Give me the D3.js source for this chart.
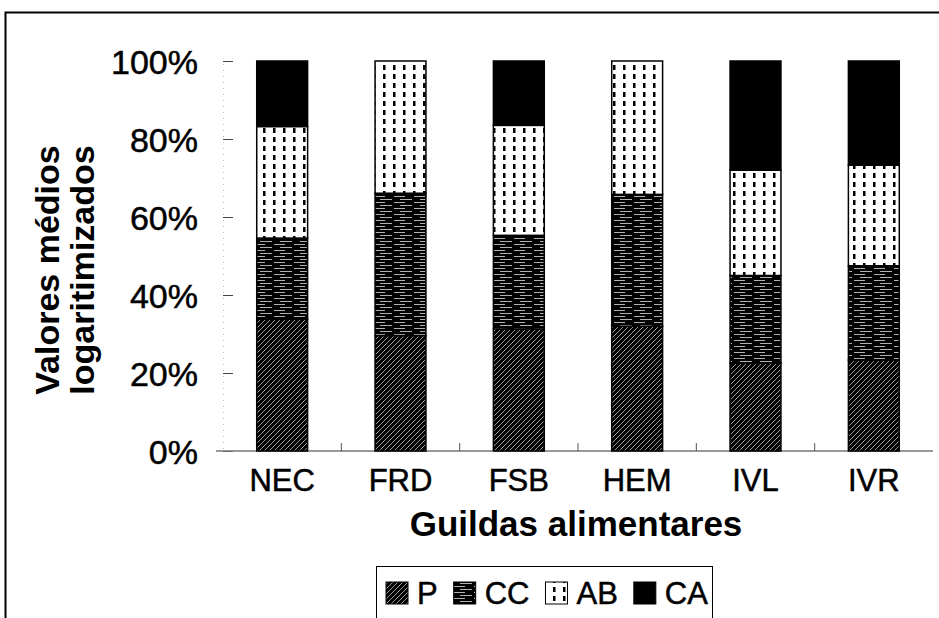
<!DOCTYPE html>
<html>

<head>
    <meta charset="utf-8" />
    <title>Guildas alimentares</title>
    <style>
        body {
            margin: 0;
            background: #fff;
        }

        text {
            font-family: 'Liberation Sans', Arial, sans-serif;
            fill: #000;
        }

        .heavy {
            stroke: #000;
            stroke-width: 0.5px;
        }
    </style>
</head>

<body>
    <div id="chart"></div>

    <script src="https://d3js.org/d3.v7.min.js"></script>
    <script>
        // values (% of the log mean, per guild)
        var guilds = ["NEC", "FRD", "FSB", "HEM", "IVL", "IVR"]
        var groups = ["P", "CC", "AB", "CA"]
        var valP = [33.8, 29.6, 31.3, 32.0, 22.5, 23.3]
        var valCC = [20.8, 36.5, 24.0, 33.8, 22.5, 24.2]
        var valAB = [28.6, 33.9, 28.2, 34.2, 27.0, 25.8]
        var valCA = [16.8, 0, 16.5, 0, 28.0, 26.7]
        var yTicks = [0, 20, 40, 60, 80, 100]

        !(function() {
            "use strict"
            var width = 939,
                height = 618

            var svg = d3.select("#chart").append("svg")
                .attr("width", width)
                .attr("height", height)

            var defs = svg.append("defs")

            // P: black with light diagonal strokes
            var pP = defs.append("pattern").attr("id", "pat-P")
                .attr("patternUnits", "userSpaceOnUse").attr("width", 5).attr("height", 5)
            pP.append("rect").attr("width", 5).attr("height", 5).attr("fill", "#000")
            pP.append("path").attr("d", "M0,5 L5,0 M-1,1 L1,-1 M4,6 L6,4")
                .attr("stroke", "#aaa").attr("stroke-width", 0.9)

            // CC: black with sparse broken white horizontal lines
            var pCC = defs.append("pattern").attr("id", "pat-CC")
                .attr("patternUnits", "userSpaceOnUse").attr("width", 20).attr("height", 6)
            pCC.append("rect").attr("width", 20).attr("height", 6).attr("fill", "#000")
            pCC.append("path").attr("d", "M0,1.5 H12 M14,4.5 H20 M0,4.5 H5")
                .attr("stroke", "#ddd").attr("stroke-width", 0.8)

            // AB: white with black vertical dashes
            var pAB = defs.append("pattern").attr("id", "pat-AB")
                .attr("patternUnits", "userSpaceOnUse").attr("width", 10).attr("height", 9)
            pAB.append("rect").attr("width", 10).attr("height", 9).attr("fill", "#fff")
            pAB.append("rect").attr("x", 3).attr("y", 2).attr("width", 2.5).attr("height", 5).attr("fill", "#000")

            var fills = {
                P: "url(#pat-P)",
                CC: "url(#pat-CC)",
                AB: "url(#pat-AB)",
                CA: "#000"
            }

            // outer frame of the figure
            svg.append("rect")
                .attr("x", 5.5).attr("y", 12.5)
                .attr("width", 945).attr("height", 625)
                .attr("fill", "none").attr("stroke", "#000").attr("stroke-width", 2)

            var x = d3.scaleBand()
                .domain(guilds)
                .range([223, 933])
                .paddingInner(0.57)
                .paddingOuter(0.285)

            var y = d3.scaleLinear()
                .domain([0, 100])
                .range([451, 61])

            var table = guilds.map(function(g, i) {
                return {
                    guild: g,
                    P: valP[i],
                    CC: valCC[i],
                    AB: valAB[i],
                    CA: valCA[i]
                }
            })
            var series = d3.stack().keys(groups)(table)

            // y axis: ticks point inward, labels on the left
            var yAxis = svg.append("g")
                .attr("transform", "translate(223,0)")
                .call(d3.axisLeft(y)
                    .tickValues(yTicks)
                    .tickSize(-10)
                    .tickPadding(25)
                    .tickFormat(function(d) {
                        return d + "%"
                    }))
            yAxis.select(".domain").attr("stroke", "#bbb").attr("stroke-dasharray", "1,5")
            yAxis.selectAll(".tick line").attr("stroke", "#444")
            yAxis.selectAll(".tick text")
                .attr("class", "heavy")
                .attr("font-size", 34)
                .attr("font-family", "'Liberation Sans', Arial, sans-serif")
                .attr("dy", "0.36em")

            // x axis baseline with ticks between categories
            svg.append("line")
                .attr("x1", 216).attr("x2", 933)
                .attr("y1", y(0)).attr("y2", y(0))
                .attr("stroke", "#777").attr("stroke-width", 1.5)

            svg.append("g").selectAll("line")
                .data(guilds.slice(1))
                .enter().append("line")
                .attr("x1", function(d) {
                    return x(d) - x.step() * x.paddingInner() / 2
                })
                .attr("x2", function(d) {
                    return x(d) - x.step() * x.paddingInner() / 2
                })
                .attr("y1", y(0) - 8).attr("y2", y(0))
                .attr("stroke", "#555")

            // stacked bars
            svg.append("g").selectAll("g")
                .data(series)
                .enter().append("g")
                .attr("fill", function(d) {
                    return fills[d.key]
                })
                .selectAll("rect")
                .data(function(d) {
                    return d.filter(function(s) {
                        return s[1] > s[0]
                    })
                })
                .enter().append("rect")
                .attr("x", function(d) {
                    return x(d.data.guild)
                })
                .attr("y", function(d) {
                    return y(d[1])
                })
                .attr("width", x.bandwidth())
                .attr("height", function(d) {
                    return y(d[0]) - y(d[1])
                })
                .attr("stroke", "#000")
                .attr("stroke-width", 1.5)

            // category labels
            svg.append("g").selectAll("text")
                .data(guilds)
                .enter().append("text")
                .attr("class", "heavy")
                .attr("x", function(d) {
                    return x(d) + x.bandwidth() / 2
                })
                .attr("y", 491)
                .attr("text-anchor", "middle")
                .attr("font-size", 31)
                .text(function(d) {
                    return d
                })

            svg.append("text")
                .attr("x", 576).attr("y", 536)
                .attr("text-anchor", "middle")
                .attr("font-size", 35)
                .attr("font-weight", "bold")
                .text("Guildas alimentares")

            var yTitle = svg.append("text")
                .attr("transform", "translate(0,270) rotate(-90)")
                .attr("text-anchor", "middle")
                .attr("font-size", 34)
                .attr("font-weight", "bold")
            yTitle.append("tspan").attr("x", 0).attr("y", 59).text("Valores médios")
            yTitle.append("tspan").attr("x", 0).attr("y", 94).text("logaritimizados")

            // legend
            var legend = svg.append("g")
            legend.append("rect")
                .attr("x", 376.5).attr("y", 566.5)
                .attr("width", 336).attr("height", 70)
                .attr("fill", "#fff").attr("stroke", "#000").attr("stroke-width", 1)

            var lx = 386
            groups.forEach(function(k) {
                legend.append("rect")
                    .attr("x", lx).attr("y", 582)
                    .attr("width", 22).attr("height", 22)
                    .attr("fill", fills[k])
                    .attr("stroke", "#000")
                var t = legend.append("text")
                    .attr("class", "heavy")
                    .attr("x", lx + 31).attr("y", 604)
                    .attr("font-size", 31)
                    .text(k)
                lx += 31 + t.node().getComputedTextLength() + 16
            })
        }());
    </script>
</body>

</html>
